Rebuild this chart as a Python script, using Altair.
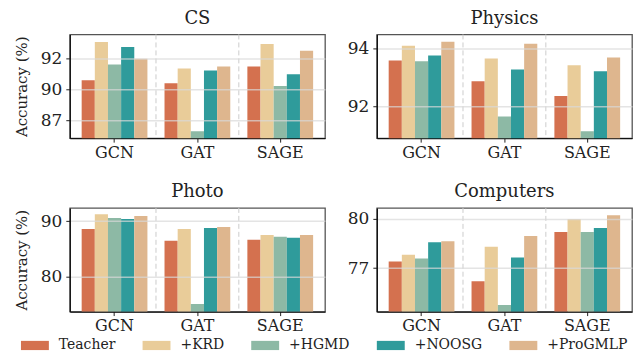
import altair as alt
import pandas as pd

models = ["GCN", "GAT", "SAGE"]
methods = ["Teacher", "+KRD", "+HGMD", "+NOOSG", "+ProGMLP"]
colors = ["#d4714f", "#e9cc99", "#8db9a5", "#2f9b9b", "#deb68e"]

# values per method, for GCN, GAT, SAGE
cs = {
    "Teacher": [90.45, 90.21, 91.56],
    "+KRD": [93.55, 91.40, 93.39],
    "+HGMD": [91.72, 86.30, 89.97],
    "+NOOSG": [93.16, 91.24, 90.93],
    "+ProGMLP": [92.20, 91.56, 92.84],
}
physics = {
    "Teacher": [93.59, 92.87, 92.36],
    "+KRD": [94.10, 93.66, 93.42],
    "+HGMD": [93.56, 91.65, 91.14],
    "+NOOSG": [93.76, 93.28, 93.22],
    "+ProGMLP": [94.24, 94.17, 93.69],
}
photo = {
    "Teacher": [88.63, 86.48, 86.66],
    "+KRD": [91.30, 88.63, 87.55],
    "+HGMD": [90.60, 75.05, 87.20],
    "+NOOSG": [90.41, 88.80, 87.02],
    "+ProGMLP": [90.95, 88.98, 87.55],
}
computers = {
    "Teacher": [77.40, 76.20, 79.20],
    "+KRD": [77.82, 78.30, 79.98],
    "+HGMD": [77.58, 74.76, 79.20],
    "+NOOSG": [78.58, 77.64, 79.44],
    "+ProGMLP": [78.64, 78.96, 80.22],
}

cs_domain = [85.74, 94.17]
cs_ticks = [92.2, 89.7, 87.2]
physics_domain = [90.9, 94.49]
physics_ticks = [94, 92]
photo_domain = [73.68, 92.43]
photo_ticks = [90, 80]
computers_domain = [74.36, 80.66]
computers_ticks = [80, 77]

FONT = "DejaVu Serif"
W, H = 256, 104


def to_df(d):
    rows = []
    for m in methods:
        for i, g in enumerate(models):
            rows.append({"model": g, "method": m, "value": d[m][i]})
    return pd.DataFrame(rows)


def panel(title, d, domain, ticks, left):
    df = to_df(d)
    xsc = alt.Scale(domain=models, paddingInner=0, paddingOuter=0.04)
    xaxis = alt.Axis(
        title=None, labelAngle=0, labelFont=FONT, labelFontSize=16, labelColor="#222",
        labelPadding=2, tickSize=4, tickColor="#222", domain=True,
        domainColor="#111", domainWidth=1.3, grid=False, bandPosition=0.5)
    yaxis = alt.Axis(
        values=ticks, format=".0f", title="Accuracy (%)" if left else None,
        titleFont=FONT, titleFontSize=15, titleFontWeight="normal", titleColor="#222",
        titlePadding=11,
        labelFont=FONT, labelFontSize=17, labelColor="#222", labelPadding=4,
        tickSize=4, tickColor="#222", domain=True, domainColor="#111", domainWidth=1.3,
        grid=True, gridColor="#d8d8d8", gridWidth=1.5, gridOpacity=0.7, zindex=1,
    )
    bars = alt.Chart(df).mark_bar(clip=True).encode(
        x=alt.X("model:N", scale=xsc, sort=models, axis=xaxis),
        xOffset=alt.XOffset("method:N", sort=methods,
                            scale=alt.Scale(domain=methods, paddingInner=0, paddingOuter=0.65)),
        y=alt.Y("value:Q", scale=alt.Scale(domain=domain, nice=False, zero=False), axis=yaxis),
        color=alt.Color("method:N", sort=methods,
                        scale=alt.Scale(domain=methods, range=colors),
                        legend=alt.Legend(
                            title=None, orient="none", direction="horizontal", columns=5,
                            legendX=-49, legendY=298,
                            labelFont=FONT, labelFontSize=14, labelColor="#222",
                            symbolType="M-1,-0.33H1V0.33H-1Z", symbolSize=784,
                            symbolStrokeWidth=0, symbolOpacity=1,
                            labelOffset=10, columnPadding=27)),
    )
    seps = alt.Chart(pd.DataFrame({"model": ["GAT", "SAGE"]})).mark_rule(
        color="#cccccc", strokeDash=[5, 3], strokeWidth=1
    ).encode(x=alt.X("model:N", scale=xsc, bandPosition=0, sort=models, axis=xaxis))
    return alt.layer(seps, bars).properties(
        width=W, height=H,
        view=alt.ViewConfig(stroke="#555", strokeWidth=1.3),
        title=alt.TitleParams(title, font=FONT, fontSize=18, fontWeight="normal",
                              color="#222", offset=6),
    )


top = alt.hconcat(
    panel("CS", cs, cs_domain, cs_ticks, True),
    panel("Physics", physics, physics_domain, physics_ticks, False),
    spacing=20,
)
bottom = alt.hconcat(
    panel("Photo", photo, photo_domain, photo_ticks, True),
    panel("Computers", computers, computers_domain, computers_ticks, False),
    spacing=20,
)
chart = alt.vconcat(top, bottom, spacing=21).properties(
    padding={"left": 5, "right": 2, "top": 0, "bottom": 1}
).configure_view(
    stroke="#555", strokeWidth=1.3
).configure(background="white")

chart.save("out.html", embed_options={"renderer": "svg", "actions": False})
